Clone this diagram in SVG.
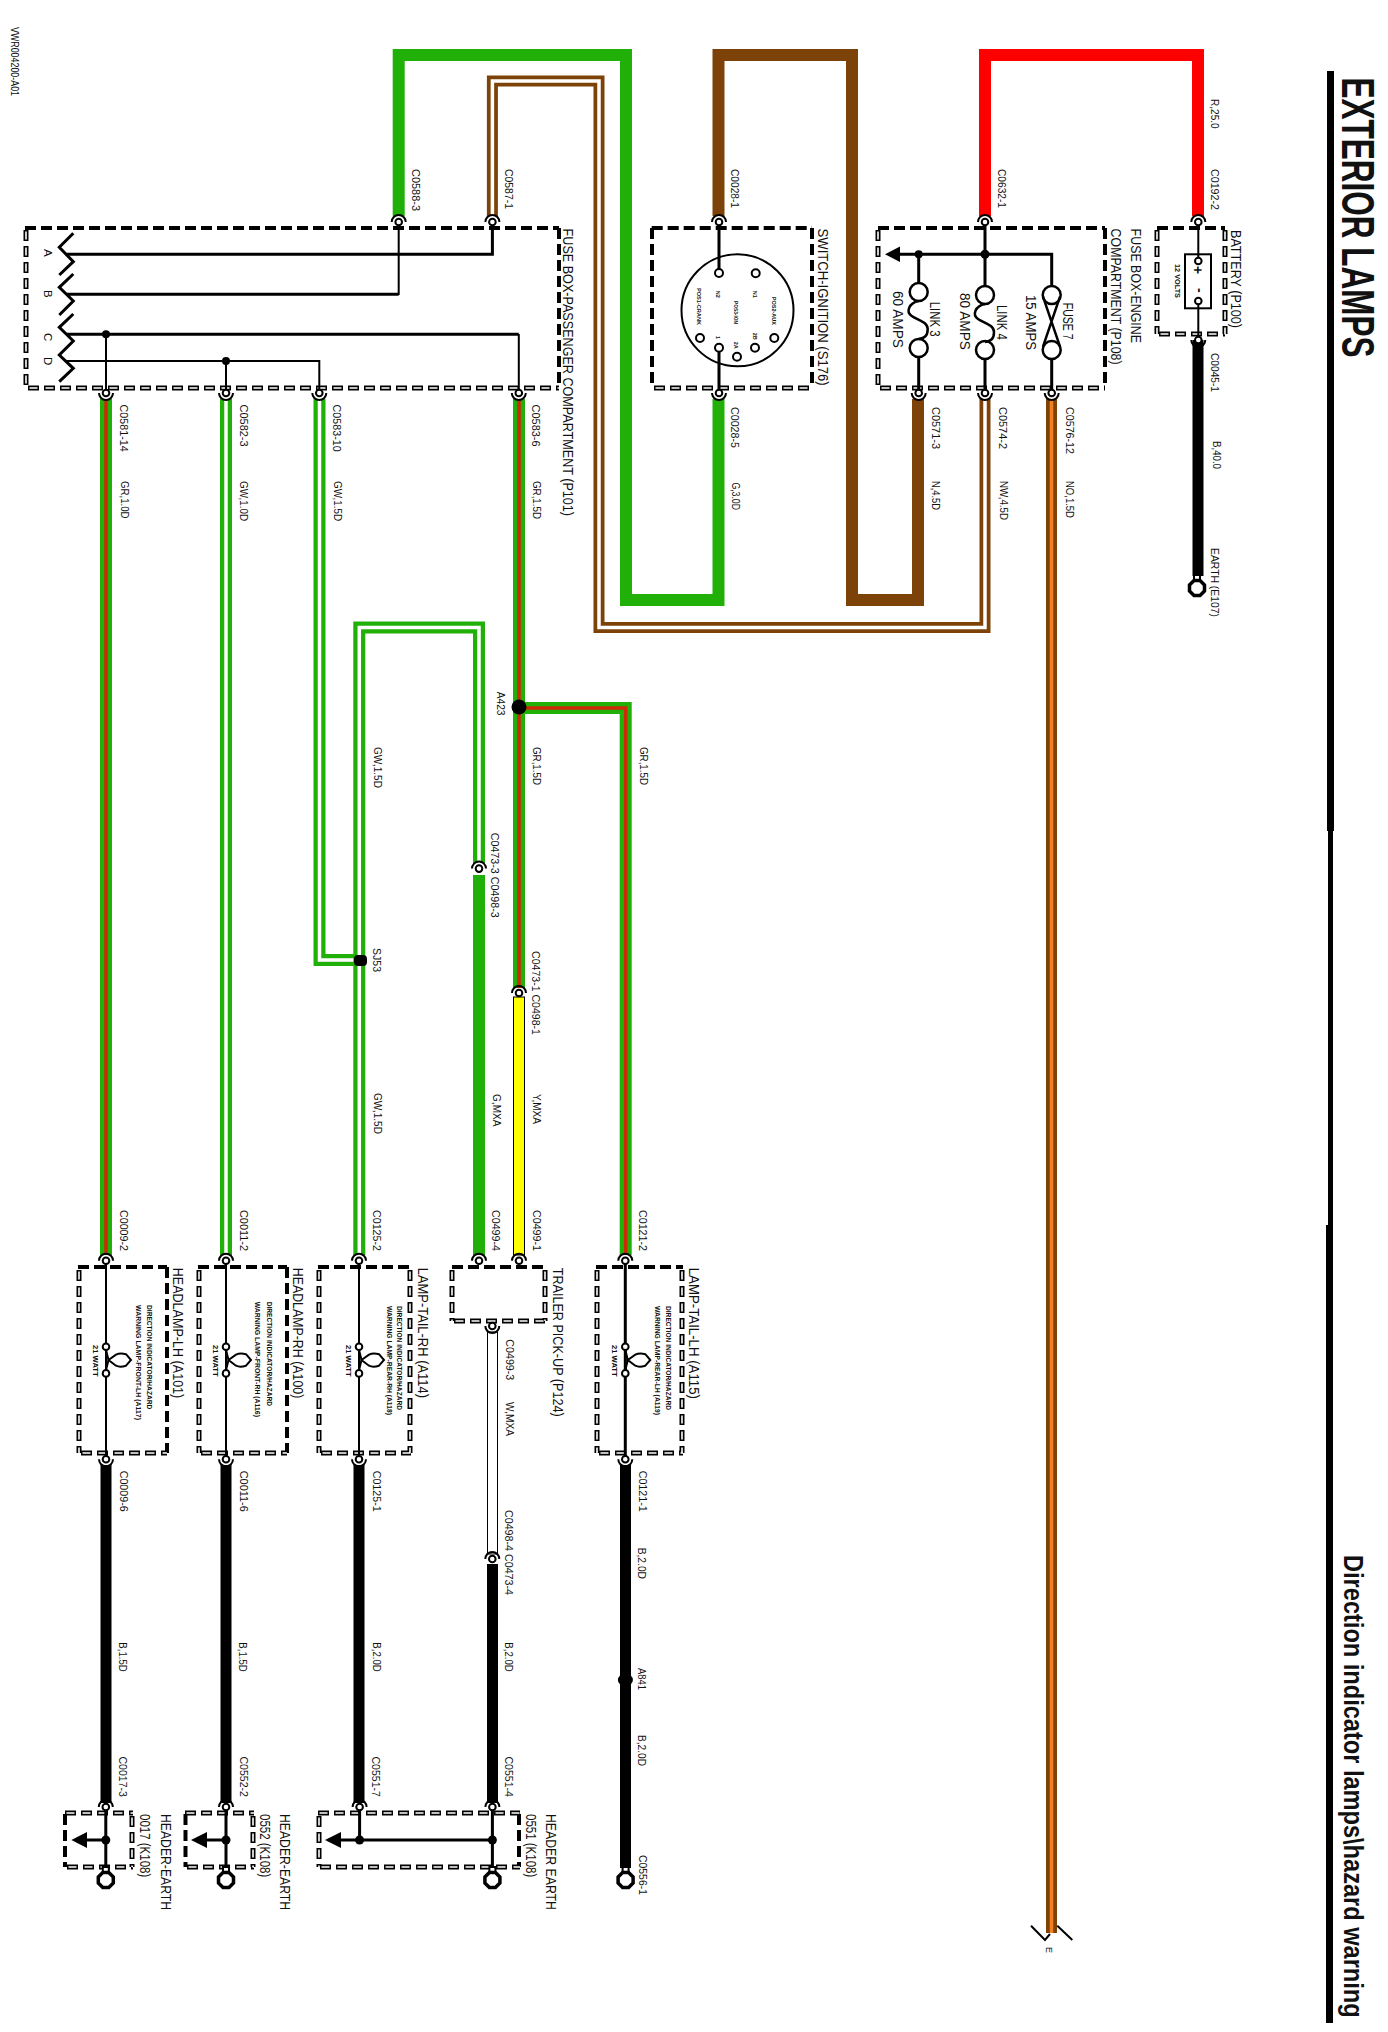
<svg xmlns="http://www.w3.org/2000/svg" width="1388" height="2032" viewBox="0 0 1388 2032">
<style>
text{font-family:"Liberation Sans",Arial,sans-serif;fill:#111}
.l{font-size:11.5px}
.b{font-size:14px}
.m{font-size:14px}
.t{font-size:7.2px;font-weight:bold}
.s{font-size:5.5px;font-weight:bold}
.w,.in,.ds,.dh,.dw,.sym{fill:none}
.w{stroke-linejoin:miter;stroke-linecap:butt}
.gr{stroke:#20b008;stroke-width:12}
.br{stroke:#7d4207;stroke-width:12}
.brd{stroke:#7d4207;stroke-width:11}
.rd{stroke:#ff0000;stroke-width:12}
.bk{stroke:#000;stroke-width:11}
.core{stroke-width:3.5}
.wh{stroke:#fff}
.red{stroke:#cc2a08}
.or{stroke:#f08020}
.in{stroke:#000;stroke-width:2}
.in3{fill:none;stroke:#000;stroke-width:3}
.ds{stroke:#000;stroke-width:4;stroke-dasharray:11 5}
.dh{stroke:#000;stroke-width:5;stroke-dasharray:11 5}
.dw{stroke:#fff;stroke-width:1.6;stroke-dasharray:8 8;stroke-dashoffset:-1.5}
.sym{stroke:#000;stroke-width:2.5}
.term{fill:#fff;stroke:#000;stroke-width:2}
</style>
<defs>
<g id="ct"><path d="M-7,0A7,7 0 0 1 7,0" fill="none" stroke="#000" stroke-width="2"/><circle r="3.3" fill="#fff" stroke="#000" stroke-width="2"/></g>
<g id="cb"><path d="M-7,0A7,7 0 0 0 7,0" fill="none" stroke="#000" stroke-width="2"/><circle r="3.3" fill="#fff" stroke="#000" stroke-width="2"/></g>
<g id="earth"><rect x="-3" y="-13" width="6" height="5" fill="#fff" stroke="#000" stroke-width="2"/><path d="M-3,-7.5H3L7.5,-3V3L3,7.5H-3L-7.5,3V-3Z" fill="#fff" stroke="#000" stroke-width="3.5"/></g>
<g id="lamp"><circle r="3.3" class="term"/><circle cy="26.7" r="3.3" class="term"/><path d="M0,3L2.5,13.3L0,23.5M2.5,13.3L10,8Q14,6 20,7.5L25,13.3L20,19Q14,21 10,19Z" fill="none" stroke="#000" stroke-width="2"/></g>
<path id="link" d="M0,8C-10,10 -13,19 -7,23S9,29 9,36S6,45 0,46" fill="none" stroke="#000" stroke-width="2.5"/>
</defs>
<rect width="1388" height="2032" fill="#fff"/>

<g id="title">
<rect x="1327" y="71" width="7" height="760"/><rect x="1328" y="830" width="5" height="396"/><rect x="1326" y="1225" width="7" height="798"/>
<text font-weight="bold" font-size="46" transform="translate(1341.5 77.5) rotate(90)" textLength="280" lengthAdjust="spacingAndGlyphs">EXTERIOR LAMPS</text>
<text font-weight="bold" font-size="27.5" transform="translate(1343.5 1555) rotate(90) scale(0.858 1)">Direction indicator lamps\hazard warning</text>
<text class="l" transform="translate(11 27) rotate(90)" textLength="69" lengthAdjust="spacingAndGlyphs">VWR004200-A01</text>
</g>

<g id="connectors">
<path class="w gr" d="M398.7,216V55H626V600H718.5V399"/>
<path class="w brd" d="M492.4,216V81H599V627.5H985V399"/><path class="w wh core" d="M492.4,216V81H599V627.5H985V399"/>
<path class="w br" d="M718.5,216V55H852V600H918V399"/>
<path class="w rd" d="M985,216V55H1198V216"/>
<path class="w bk" d="M1198,340V576"/>
<path class="w brd" d="M1051.5,399V1933"/><path class="w or core" d="M1051.5,399V1933"/>
<path class="in" d="M1031,1925.7L1045,1940L1050,1934M1057.3,1925.7L1072.3,1940"/>
<path class="w gr" d="M106,399V1255"/><path class="w red core" d="M106,399V1255"/>
<path class="w gr" d="M226,399V1255"/><path class="w wh core" d="M226,399V1255"/>
<path class="w gr" d="M319.5,399V960H360"/><path class="w wh core" d="M319.5,399V960H360"/>
<path class="w gr" d="M359.3,1255V627.5H479V863"/><path class="w wh core" d="M359.3,1255V627.5H479V863"/>
<path class="w gr" d="M479,875V1255"/>
<path class="w gr" d="M519,399V988"/><path class="w red core" d="M519,399V988"/>
<path class="w gr" d="M519,708H625.7V1255"/><path class="w red core" d="M519,708H625.7V1255"/>
<rect x="513.5" y="997" width="11" height="258" fill="#ffff00" stroke="#000" stroke-width="1"/>
<rect x="487.5" y="1332" width="10" height="222" fill="#fff" stroke="#000" stroke-width="1"/>
<path class="w bk" d="M492.5,1564V1803"/>
<path class="w bk" d="M106,1465V1803M226,1465V1803M359,1465V1803M625.5,1465V1868"/>
<ellipse cx="519" cy="707" rx="7.5" ry="7.5"/>
<ellipse cx="625.4" cy="1680" rx="7.5" ry="6.5"/>
<rect x="354" y="955" width="13" height="11" rx="4"/>
<use href="#ct" x="479" y="868.6"/><use href="#ct" x="519" y="993"/><use href="#ct" x="492.3" y="1559"/>
<g id="wire-labels">
<text class="l" transform="translate(411.6 169) rotate(90)" textLength="42" lengthAdjust="spacingAndGlyphs">C0588-3</text>
<text class="l" transform="translate(504.5 169) rotate(90)" textLength="40" lengthAdjust="spacingAndGlyphs">C0587-1</text>
<text class="l" transform="translate(119.6 404.6) rotate(90)" textLength="47" lengthAdjust="spacingAndGlyphs">C0581-14</text>
<text class="l" transform="translate(120.5 481) rotate(90)" textLength="37.5" lengthAdjust="spacingAndGlyphs">GR,1.0D</text>
<text class="l" transform="translate(239.7 404.6) rotate(90)" textLength="42" lengthAdjust="spacingAndGlyphs">C0582-3</text>
<text class="l" transform="translate(240 481) rotate(90)" textLength="40" lengthAdjust="spacingAndGlyphs">GW,1.0D</text>
<text class="l" transform="translate(332.6 404.6) rotate(90)" textLength="47" lengthAdjust="spacingAndGlyphs">C0583-10</text>
<text class="l" transform="translate(334 481) rotate(90)" textLength="40" lengthAdjust="spacingAndGlyphs">GW,1.5D</text>
<text class="l" transform="translate(532 404.6) rotate(90)" textLength="42" lengthAdjust="spacingAndGlyphs">C0583-6</text>
<text class="l" transform="translate(533 481) rotate(90)" textLength="38" lengthAdjust="spacingAndGlyphs">GR,1.5D</text>
<text class="l" transform="translate(730.6 169) rotate(90)" textLength="39" lengthAdjust="spacingAndGlyphs">C0028-1</text>
<text class="l" transform="translate(998 169) rotate(90)" textLength="39" lengthAdjust="spacingAndGlyphs">C0632-1</text>
<text class="l" transform="translate(1211 169) rotate(90)" textLength="41" lengthAdjust="spacingAndGlyphs">C0192-2</text>
<text class="l" transform="translate(1211 99) rotate(90)" textLength="29.6" lengthAdjust="spacingAndGlyphs">R,25.0</text>
<text class="l" transform="translate(1211 353) rotate(90)" textLength="39" lengthAdjust="spacingAndGlyphs">C0045-1</text>
<text class="l" transform="translate(1212.5 441) rotate(90)" textLength="28" lengthAdjust="spacingAndGlyphs">B,40.0</text>
<text class="l" transform="translate(1211 548) rotate(90)" textLength="69" lengthAdjust="spacingAndGlyphs">EARTH (E107)</text>
<text class="l" transform="translate(730.6 407) rotate(90)" textLength="41" lengthAdjust="spacingAndGlyphs">C0028-5</text>
<text class="l" transform="translate(731.6 482.4) rotate(90)" textLength="27.6" lengthAdjust="spacingAndGlyphs">G,3.0D</text>
<text class="l" transform="translate(932 407) rotate(90)" textLength="42" lengthAdjust="spacingAndGlyphs">C0571-3</text>
<text class="l" transform="translate(932 481) rotate(90)" textLength="29" lengthAdjust="spacingAndGlyphs">N,4.5D</text>
<text class="l" transform="translate(998.8 407) rotate(90)" textLength="42" lengthAdjust="spacingAndGlyphs">C0574-2</text>
<text class="l" transform="translate(1000 481) rotate(90)" textLength="39" lengthAdjust="spacingAndGlyphs">NW,4.5D</text>
<text class="l" transform="translate(1065.6 407) rotate(90)" textLength="47" lengthAdjust="spacingAndGlyphs">C0576-12</text>
<text class="l" transform="translate(1065.6 481) rotate(90)" textLength="37" lengthAdjust="spacingAndGlyphs">NO,1.5D</text>
<text transform="translate(1046 1947) rotate(90)" font-size="9">E</text>
<text class="l" transform="translate(374 747) rotate(90)" textLength="41" lengthAdjust="spacingAndGlyphs">GW,1.5D</text>
<text class="l" transform="translate(374 1093) rotate(90)" textLength="41" lengthAdjust="spacingAndGlyphs">GW,1.5D</text>
<text class="l" transform="translate(372.7 948) rotate(90)" textLength="24" lengthAdjust="spacingAndGlyphs">SJ53</text>
<text class="l" transform="translate(490.7 832.7) rotate(90)" textLength="85" lengthAdjust="spacingAndGlyphs">C0473-3 C0498-3</text>
<text class="l" transform="translate(496.7 691.8) rotate(90)" textLength="23.7" lengthAdjust="spacingAndGlyphs">A423</text>
<text class="l" transform="translate(533 747) rotate(90)" textLength="38" lengthAdjust="spacingAndGlyphs">GR,1.5D</text>
<text class="l" transform="translate(640 747) rotate(90)" textLength="38" lengthAdjust="spacingAndGlyphs">GR,1.5D</text>
<text class="l" transform="translate(532.3 951) rotate(90)" textLength="84" lengthAdjust="spacingAndGlyphs">C0473-1 C0498-1</text>
<text class="l" transform="translate(493.3 1094) rotate(90)" textLength="32.5" lengthAdjust="spacingAndGlyphs">G,MXA</text>
<text class="l" transform="translate(532.7 1094) rotate(90)" textLength="30" lengthAdjust="spacingAndGlyphs">Y,MXA</text>
<text class="l" transform="translate(120 1210) rotate(90)" textLength="41" lengthAdjust="spacingAndGlyphs">C0009-2</text>
<text class="l" transform="translate(240 1210) rotate(90)" textLength="41" lengthAdjust="spacingAndGlyphs">C0011-2</text>
<text class="l" transform="translate(372.7 1210) rotate(90)" textLength="41" lengthAdjust="spacingAndGlyphs">C0125-2</text>
<text class="l" transform="translate(492.3 1210) rotate(90)" textLength="41" lengthAdjust="spacingAndGlyphs">C0499-4</text>
<text class="l" transform="translate(532.7 1210) rotate(90)" textLength="41" lengthAdjust="spacingAndGlyphs">C0499-1</text>
<text class="l" transform="translate(638.7 1210) rotate(90)" textLength="41" lengthAdjust="spacingAndGlyphs">C0121-2</text>
<text class="l" transform="translate(120 1470.7) rotate(90)" textLength="41" lengthAdjust="spacingAndGlyphs">C0009-6</text>
<text class="l" transform="translate(240 1470.7) rotate(90)" textLength="41" lengthAdjust="spacingAndGlyphs">C0011-6</text>
<text class="l" transform="translate(372.7 1470.7) rotate(90)" textLength="41" lengthAdjust="spacingAndGlyphs">C0125-1</text>
<text class="l" transform="translate(638.7 1470.7) rotate(90)" textLength="41" lengthAdjust="spacingAndGlyphs">C0121-1</text>
<text class="l" transform="translate(505.7 1339.3) rotate(90)" textLength="41" lengthAdjust="spacingAndGlyphs">C0499-3</text>
<text class="l" transform="translate(506 1402) rotate(90)" textLength="34" lengthAdjust="spacingAndGlyphs">W,MXA</text>
<text class="l" transform="translate(505.4 1510) rotate(90)" textLength="85" lengthAdjust="spacingAndGlyphs">C0498-4 C0473-4</text>
<text class="l" transform="translate(119 1642.3) rotate(90)" textLength="29.4" lengthAdjust="spacingAndGlyphs">B,1.5D</text>
<text class="l" transform="translate(239.3 1642.3) rotate(90)" textLength="29.4" lengthAdjust="spacingAndGlyphs">B,1.5D</text>
<text class="l" transform="translate(372.5 1642.3) rotate(90)" textLength="29.4" lengthAdjust="spacingAndGlyphs">B,2.0D</text>
<text class="l" transform="translate(505.4 1642.3) rotate(90)" textLength="29.4" lengthAdjust="spacingAndGlyphs">B,2.0D</text>
<text class="l" transform="translate(638 1547.7) rotate(90)" textLength="31.3" lengthAdjust="spacingAndGlyphs">B,2.0D</text>
<text class="l" transform="translate(638 1668) rotate(90)" textLength="22" lengthAdjust="spacingAndGlyphs">A841</text>
<text class="l" transform="translate(638 1735) rotate(90)" textLength="31" lengthAdjust="spacingAndGlyphs">B,2.0D</text>
<text class="l" transform="translate(119 1756.5) rotate(90)" textLength="40.5" lengthAdjust="spacingAndGlyphs">C0017-3</text>
<text class="l" transform="translate(239.5 1756.5) rotate(90)" textLength="40.5" lengthAdjust="spacingAndGlyphs">C0552-2</text>
<text class="l" transform="translate(372 1756.5) rotate(90)" textLength="40.5" lengthAdjust="spacingAndGlyphs">C0551-7</text>
<text class="l" transform="translate(505 1756.5) rotate(90)" textLength="40.5" lengthAdjust="spacingAndGlyphs">C0551-4</text>
<text class="l" transform="translate(638.6 1855) rotate(90)" textLength="40" lengthAdjust="spacingAndGlyphs">C0556-1</text>
</g>
</g>

<g id="fusebox-passenger">
<path class="ds" d="M25,228H559M559,228V388"/><path class="dh" d="M26,230V388M28,388H559"/><path class="dw" d="M26,230V388M28,388H559"/>
<path class="in3" d="M73.3,233.3L59.3,247.3L73.3,261.7L59.3,275M73.3,274L59.3,287.3L73.3,301L59.3,315M73.3,314L59.3,327.3L73.3,341L59.3,355L73.3,368.3L59.3,381.7"/>
<path class="in3" d="M66.7,254.3H492.4V222M66.7,294.3H398.7M66.7,334.3H518.8"/>
<path class="in" d="M398.7,295V222M518.8,334V393M106,334V393M66,361H319.3V393M226,361V393"/>
<circle cx="106" cy="334.3" r="4"/><circle cx="226" cy="361" r="4"/>
<use href="#ct" x="398.7" y="222"/><use href="#ct" x="492.4" y="222"/>
<use href="#cb" x="106" y="393"/><use href="#cb" x="226" y="393"/><use href="#cb" x="319.3" y="393"/><use href="#cb" x="518.8" y="393"/>
<text class="l" transform="translate(44 249) rotate(90)">A</text><text class="l" transform="translate(44 290) rotate(90)">B</text><text class="l" transform="translate(44 333) rotate(90)">C</text><text class="l" transform="translate(44 357) rotate(90)">D</text>
<text class="b" transform="translate(562.5 228.6) rotate(90)" textLength="287.4" lengthAdjust="spacingAndGlyphs">FUSE BOX-PASSENGER COMPARTMENT (P101)</text>
</g>

<g id="switch-ignition">
<path class="ds" d="M651.7,228H812M812,228V388M652,228V388"/><path class="dh" d="M654,388H812"/><path class="dw" d="M654,388H812"/>
<circle cx="737.5" cy="310.3" r="56" fill="none" stroke="#000" stroke-width="2"/>
<path class="in3" d="M719,222V270M719,351V393"/>
<circle cx="719" cy="273" r="4" class="term"/><circle cx="755.7" cy="273.3" r="4" class="term"/><circle cx="774.3" cy="338" r="4" class="term"/><circle cx="755" cy="347.7" r="4" class="term"/><circle cx="737" cy="356.7" r="4" class="term"/><circle cx="700" cy="338" r="4" class="term"/><circle cx="719" cy="347.7" r="4" class="term"/>
<use href="#ct" x="719" y="222"/><use href="#cb" x="719" y="393"/>
<text class="s" transform="translate(715.7 290.7) rotate(90)">N2</text>
<text class="s" transform="translate(753 290.7) rotate(90)">N1</text>
<text class="s" transform="translate(696.7 288) rotate(90)" textLength="37" lengthAdjust="spacingAndGlyphs">POS1-CRANK</text>
<text class="s" transform="translate(734 301) rotate(90)" textLength="23" lengthAdjust="spacingAndGlyphs">POS3-ION</text>
<text class="s" transform="translate(771.7 296.7) rotate(90)" textLength="28.3" lengthAdjust="spacingAndGlyphs">POS2-AUX</text>
<text class="s" transform="translate(716 336) rotate(90)">1</text>
<text class="s" transform="translate(734 341.7) rotate(90)">2A</text>
<text class="s" transform="translate(753 332.7) rotate(90)">2B</text>
<text class="b" transform="translate(817.5 228.6) rotate(90)" textLength="157" lengthAdjust="spacingAndGlyphs">SWITCH-IGNITION (S176)</text>
</g>

<g id="fusebox-engine">
<path class="ds" d="M878,228H1105M1105,228V388"/><path class="dh" d="M878,230V388M880,388H1105"/><path class="dw" d="M878,230V388M880,388H1105"/>
<path class="in3" d="M895,254.3H1051.7V286M918.7,254V283M985,222V286M918.7,357V393M985,359V393M1051.7,359V393"/>
<polygon points="885,254.3 900,246.5 900,262"/>
<circle cx="918.7" cy="254.3" r="4"/><circle cx="985" cy="254.3" r="4.5"/>
<circle cx="918.7" cy="292" r="9" class="sym"/><circle cx="918.7" cy="348" r="9" class="sym"/>
<circle cx="985" cy="295" r="9" class="sym"/><circle cx="985" cy="350" r="9" class="sym"/>
<circle cx="1051.7" cy="295" r="9" class="sym"/><circle cx="1051.7" cy="350" r="9" class="sym"/>
<use href="#link" x="918.7" y="293"/><use href="#link" x="985" y="296"/>
<path class="sym" d="M1043,296.7L1060,346.7M1060,296.7L1043,346.7"/>
<use href="#ct" x="985" y="222"/><use href="#cb" x="918.7" y="393"/><use href="#cb" x="985" y="393"/><use href="#cb" x="1051.7" y="393"/>
<text class="m" transform="translate(930 301.7) rotate(90)" textLength="35" lengthAdjust="spacingAndGlyphs">LINK 3</text>
<text class="m" transform="translate(893.3 291) rotate(90)" textLength="57" lengthAdjust="spacingAndGlyphs">60 AMPS</text>
<text class="m" transform="translate(996.7 305) rotate(90)" textLength="35" lengthAdjust="spacingAndGlyphs">LINK 4</text>
<text class="m" transform="translate(960 293) rotate(90)" textLength="57" lengthAdjust="spacingAndGlyphs">80 AMPS</text>
<text class="m" transform="translate(1062.7 302.7) rotate(90)" textLength="37" lengthAdjust="spacingAndGlyphs">FUSE 7</text>
<text class="m" transform="translate(1026 295) rotate(90)" textLength="55" lengthAdjust="spacingAndGlyphs">15 AMPS</text>
<text class="b" transform="translate(1131.4 228.6) rotate(90)" textLength="114.4" lengthAdjust="spacingAndGlyphs">FUSE BOX-ENGINE</text>
<text class="b" transform="translate(1111.4 228.6) rotate(90)" textLength="136" lengthAdjust="spacingAndGlyphs">COMPARTMENT (P108)</text>
</g>

<g id="battery">
<path class="ds" d="M1157,228H1225"/><path class="dh" d="M1157,230V334M1159,334H1225M1225,230V334"/><path class="dw" d="M1157,230V334M1159,334H1225M1225,230V334"/>
<path class="in" d="M1198.3,222V258M1198.3,304V340"/>
<rect x="1185" y="254.3" width="26" height="54" fill="none" stroke="#000" stroke-width="2"/>
<circle cx="1198.3" cy="261" r="3.3" class="term"/><circle cx="1198.3" cy="301" r="3.3" class="term"/>
<text transform="translate(1192.5 266) rotate(90)" font-size="14" font-weight="bold">+</text>
<text transform="translate(1194.5 288) rotate(90)" font-size="14" font-weight="bold">-</text>
<use href="#ct" x="1198.3" y="222"/><use href="#cb" x="1198.3" y="340"/>
<text class="s" transform="translate(1175 264) rotate(90)" textLength="34" lengthAdjust="spacingAndGlyphs" style="font-size:6.5px">12 VOLTS</text>
<text class="b" transform="translate(1230.6 230) rotate(90)" textLength="98" lengthAdjust="spacingAndGlyphs">BATTERY (P100)</text>
<use href="#earth" x="1197" y="588"/>
</g>

<g id="headlamp-lh">
<path class="ds" d="M78,1267H167M167,1267V1453"/><path class="dh" d="M79,1270V1453M81,1453H167"/><path class="dw" d="M79,1270V1453M81,1453H167"/>
<path class="in" d="M106,1261V1459"/><use href="#lamp" x="106" y="1346.7"/>
<use href="#ct" x="106" y="1260.7"/><use href="#cb" x="106" y="1459.3"/>
<text class="t" transform="translate(147.3 1305) rotate(90)" textLength="104.3" lengthAdjust="spacingAndGlyphs">DIRECTION INDICATOR/HAZARD</text>
<text class="t" transform="translate(136 1305) rotate(90)" textLength="115" lengthAdjust="spacingAndGlyphs">WARNING LAMP-FRONT-LH (A117)</text>
<text class="t" transform="translate(93.3 1345) rotate(90)" textLength="31.7" lengthAdjust="spacingAndGlyphs">21 WATT</text>
<text class="b" transform="translate(173.3 1267.7) rotate(90)" textLength="130.6" lengthAdjust="spacingAndGlyphs">HEADLAMP-LH (A101)</text>
</g>
<g id="headlamp-rh">
<path class="ds" d="M198,1267H287M287,1267V1453"/><path class="dh" d="M199,1270V1453M201,1453H287"/><path class="dw" d="M199,1270V1453M201,1453H287"/>
<path class="in" d="M226,1261V1459"/><use href="#lamp" x="226" y="1346.7"/>
<use href="#ct" x="226" y="1260.7"/><use href="#cb" x="226" y="1459.3"/>
<text class="t" transform="translate(267 1301.7) rotate(90)" textLength="104.3" lengthAdjust="spacingAndGlyphs">DIRECTION INDICATOR/HAZARD</text>
<text class="t" transform="translate(255 1301.7) rotate(90)" textLength="115.3" lengthAdjust="spacingAndGlyphs">WARNING LAMP-FRONT-RH (A116)</text>
<text class="t" transform="translate(213.3 1345) rotate(90)" textLength="31.7" lengthAdjust="spacingAndGlyphs">21 WATT</text>
<text class="b" transform="translate(293.3 1267.7) rotate(90)" textLength="130.6" lengthAdjust="spacingAndGlyphs">HEADLAMP-RH (A100)</text>
</g>
<g id="lamp-tail-rh">
<path class="ds" d="M318,1267H411"/><path class="dh" d="M319,1270V1453M321,1453H411M410,1270V1453"/><path class="dw" d="M319,1270V1453M321,1453H411M410,1270V1453"/>
<path class="in" d="M359,1261V1459"/><use href="#lamp" x="359" y="1346.7"/>
<use href="#ct" x="359" y="1260.7"/><use href="#cb" x="359" y="1459.3"/>
<text class="t" transform="translate(397.3 1306) rotate(90)" textLength="104" lengthAdjust="spacingAndGlyphs">DIRECTION INDICATOR/HAZARD</text>
<text class="t" transform="translate(387.3 1306) rotate(90)" textLength="109" lengthAdjust="spacingAndGlyphs">WARNING LAMP-REAR-RH (A118)</text>
<text class="t" transform="translate(346 1345) rotate(90)" textLength="31.7" lengthAdjust="spacingAndGlyphs">21 WATT</text>
<text class="b" transform="translate(418.3 1267.7) rotate(90)" textLength="130.3" lengthAdjust="spacingAndGlyphs">LAMP-TAIL-RH (A114)</text>
</g>
<g id="trailer-pickup">
<path class="ds" d="M452,1267H546"/><path class="dh" d="M452,1270V1321M454,1321H546M545,1270V1321"/><path class="dw" d="M452,1270V1321M454,1321H546M545,1270V1321"/>
<use href="#ct" x="479" y="1260.7"/><use href="#ct" x="519" y="1260.7"/><use href="#cb" x="492.3" y="1326"/>
<text class="b" transform="translate(552.7 1267.7) rotate(90)" textLength="149" lengthAdjust="spacingAndGlyphs">TRAILER PICK-UP (P124)</text>
</g>
<g id="lamp-tail-lh">
<path class="ds" d="M596,1267H683"/><path class="dh" d="M597,1270V1453M599,1453H683M682,1270V1453"/><path class="dw" d="M597,1270V1453M599,1453H683M682,1270V1453"/>
<path class="in3" d="M625.3,1261V1459"/><use href="#lamp" x="625.3" y="1346.7"/>
<use href="#ct" x="625.3" y="1260.7"/><use href="#cb" x="625.3" y="1459.3"/>
<text class="t" transform="translate(666 1306) rotate(90)" textLength="104" lengthAdjust="spacingAndGlyphs">DIRECTION INDICATOR/HAZARD</text>
<text class="t" transform="translate(655 1306) rotate(90)" textLength="109" lengthAdjust="spacingAndGlyphs">WARNING LAMP-REAR-LH (A119)</text>
<text class="t" transform="translate(612.3 1345) rotate(90)" textLength="31.7" lengthAdjust="spacingAndGlyphs">21 WATT</text>
<text class="b" transform="translate(689.3 1267.7) rotate(90)" textLength="131.3" lengthAdjust="spacingAndGlyphs">LAMP-TAIL-LH (A115)</text>
</g>

<g id="header-earth-0017">
<path class="ds" d="M65,1814V1867"/><path class="dh" d="M65,1813H133M67,1867H133M132,1816V1867"/><path class="dw" d="M65,1813H133M67,1867H133M132,1816V1867"/>
<path class="in3" d="M105.8,1807V1872M86,1840H105.8"/><polygon points="71.4,1840 87,1832 87,1848"/><circle cx="105.8" cy="1840" r="4.5"/>
<use href="#ct" x="105.8" y="1807"/><use href="#earth" x="105.8" y="1880"/>
<text class="b" transform="translate(140.3 1814) rotate(90)" textLength="63.3" lengthAdjust="spacingAndGlyphs">0017 (K108)</text>
<text class="b" transform="translate(160.5 1814) rotate(90)" textLength="96" lengthAdjust="spacingAndGlyphs">HEADER-EARTH</text>
</g>
<g id="header-earth-0552">
<path class="ds" d="M185.5,1814V1867"/><path class="dh" d="M185,1813H254M187,1867H254M253,1816V1867"/><path class="dw" d="M185,1813H254M187,1867H254M253,1816V1867"/>
<path class="in3" d="M226,1807V1872M206,1840H226"/><polygon points="191,1840 207,1832 207,1848"/><circle cx="226" cy="1840" r="4.5"/>
<use href="#ct" x="226" y="1807"/><use href="#earth" x="226" y="1880"/>
<text class="b" transform="translate(260 1814) rotate(90)" textLength="63.3" lengthAdjust="spacingAndGlyphs">0552 (K108)</text>
<text class="b" transform="translate(280 1814) rotate(90)" textLength="96" lengthAdjust="spacingAndGlyphs">HEADER-EARTH</text>
</g>
<g id="header-earth-0551">
<path class="ds" d="M519,1814V1867"/><path class="dh" d="M318,1813H520M320,1867H520M319,1816V1867"/><path class="dw" d="M318,1813H520M320,1867H520M319,1816V1867"/>
<path class="in3" d="M359.6,1807V1840M492.4,1807V1872M340,1840H492.4"/><polygon points="325,1840 341,1832 341,1848"/><circle cx="359.6" cy="1840" r="4.5"/><circle cx="492.4" cy="1840" r="4.5"/>
<use href="#ct" x="359.6" y="1807"/><use href="#ct" x="492.4" y="1807"/><use href="#earth" x="492.4" y="1880"/>
<text class="b" transform="translate(526 1814) rotate(90)" textLength="63.3" lengthAdjust="spacingAndGlyphs">0551 (K108)</text>
<text class="b" transform="translate(546 1814) rotate(90)" textLength="96" lengthAdjust="spacingAndGlyphs">HEADER EARTH</text>
</g>
<g id="earth-c0556"><use href="#earth" x="625.6" y="1880"/></g>
</svg>
